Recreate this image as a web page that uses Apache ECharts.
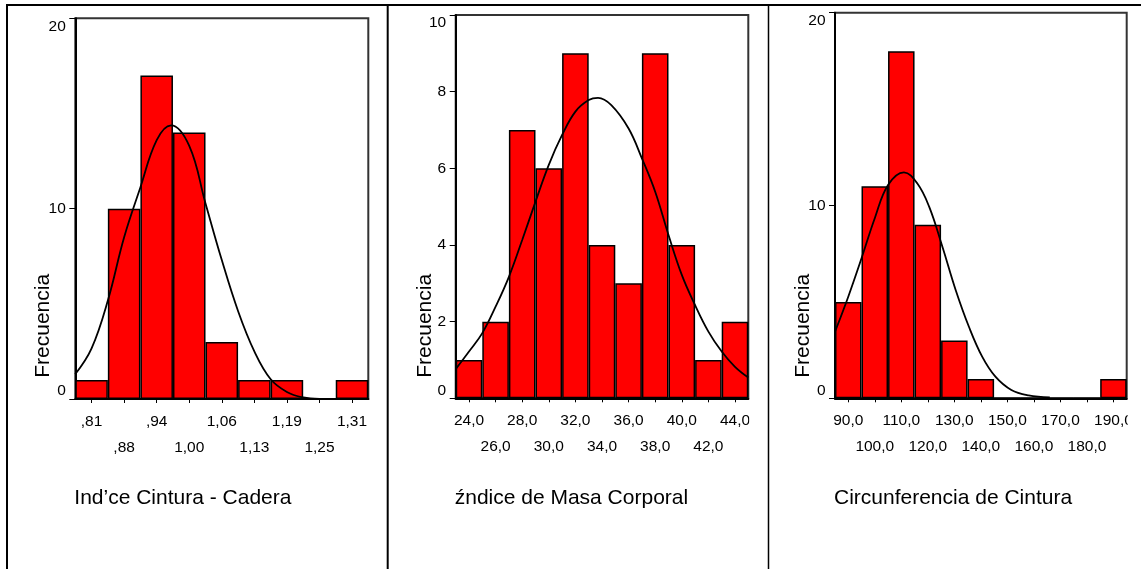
<!DOCTYPE html>
<html>
<head>
<meta charset="utf-8">
<script src="https://cdn.jsdelivr.net/npm/echarts@6/dist/echarts.min.js"></script>
<style>
html,body{margin:0;padding:0;background:#fff;}
#main{width:1141px;height:569px;}
</style>
</head>
<body>
<div id="main"></div>
<script>
// ---------- DATA ----------
// Panel 1: Índice Cintura - Cadera
const cats1 = [',81', ',88', ',94', '1,00', '1,06', '1,13', '1,19', '1,25', '1,31'];
const freq1 = [1, 10, 17, 14, 3, 1, 1, 0, 1];
const range1 = [0.78125, 1.34375];
const curveX1 = [0.781, 0.8125, 0.844, 0.875, 0.906, 0.9375, 0.965, 1.0, 1.031, 1.0625, 1.094, 1.125, 1.156, 1.1875, 1.219, 1.25];
const curveY1 = [1.30, 2.66, 5.2, 8.5, 11.1, 13.6, 14.38, 13.3, 10.3, 7.3, 4.6, 2.5, 1.05, 0.37, 0.08, 0.0];

// Panel 2: Índice de Masa Corporal
const cats2 = ['24,0', '26,0', '28,0', '30,0', '32,0', '34,0', '36,0', '38,0', '40,0', '42,0', '44,0'];
const freq2 = [1, 2, 7, 6, 9, 4, 3, 9, 4, 1, 2];
const range2 = [23, 45];
const curveX2 = [23, 24, 25, 26, 27, 28, 29, 30, 31, 32, 33, 33.7, 34.7, 36, 37, 38, 39, 40, 41, 42, 43, 44, 45];
const curveY2 = [0.76, 1.22, 1.70, 2.39, 3.17, 4.13, 5.13, 6.09, 6.87, 7.48, 7.78, 7.84, 7.65, 7.04, 6.26, 5.39, 4.26, 3.22, 2.43, 1.74, 1.22, 0.82, 0.54];

// Panel 3: Circunferencia de Cintura
const cats3 = ['90,0', '100,0', '110,0', '120,0', '130,0', '140,0', '150,0', '160,0', '170,0', '180,0', '190,0'];
const freq3 = [5, 11, 18, 9, 3, 1, 0, 0, 0, 0, 1];
const range3 = [85, 195];
const curveX3 = [85, 90, 95, 100, 105, 111, 116, 120.5, 125.5, 130.5, 135.5, 140.5, 145.5, 151.5, 158, 166];
const curveY3 = [3.45, 5.27, 7.26, 9.34, 11.06, 11.72, 11.15, 9.94, 7.86, 5.62, 3.71, 2.16, 1.12, 0.43, 0.15, 0.05];

const xTitles = ['Ind\u2019ce Cintura - Cadera', '\u017Andice de Masa Corporal', 'Circunferencia de Cintura'];
const yTitle = 'Frecuencia';
const yMax = [20, 10, 20];
const yStep = [10, 2, 10];

// ---------- LAYOUT ----------
const FONT = '"Liberation Sans", Arial, sans-serif';
const grids = [
  {left: 75.3, top: 18.3, width: 293, height: 380.7},
  {left: 455.7, top: 15, width: 292.6, height: 383.3},
  {left: 835, top: 12.7, width: 291.7, height: 385.6}
];
const cats = [cats1, cats2, cats3];
const freqs = [freq1, freq2, freq3];
const ranges = [range1, range2, range3];
const curves = [[curveX1, curveY1], [curveX2, curveY2], [curveX3, curveY3]];
const yNameX = [43.5, 425, 803.3];

const option = {
  animation: false,
  backgroundColor: '#fff',
  grid: grids.map(g => Object.assign({show: true, borderColor: '#333', borderWidth: 2, backgroundColor: 'transparent'}, g)),
  xAxis: [],
  yAxis: [],
  series: [],
  graphic: []
};

for (let p = 0; p < 3; p++) {
  option.xAxis.push({
    type: 'category', gridIndex: p, data: cats[p], boundaryGap: true,
    axisLine: {lineStyle: {color: '#000', width: 2}},
    axisTick: {show: true, alignWithLabel: true, length: 4, interval: 0, lineStyle: {color: '#000', width: 1}},
    axisLabel: {
      interval: 0, margin: 9, fontSize: 15.5, lineHeight: 26.5, color: '#000', fontFamily: FONT,
      formatter: (v, i) => (i % 2 ? '\n' + v : v)
    },
    splitLine: {show: false}
  });
  option.xAxis.push({
    type: 'value', gridIndex: p, min: ranges[p][0], max: ranges[p][1], show: false
  });
  option.yAxis.push({
    type: 'value', gridIndex: p, min: 0, max: yMax[p], interval: yStep[p],
    axisLine: {show: true, lineStyle: {color: '#000', width: 2}},
    axisTick: {show: true, length: 6, lineStyle: {color: '#000', width: 1}},
    axisLabel: {margin: 9.5, fontSize: 15.5, color: '#000', fontFamily: FONT,
      verticalAlignMaxLabel: 'top', verticalAlignMinLabel: 'bottom'},
    splitLine: {show: false}
  });
  option.series.push({
    type: 'bar', xAxisIndex: 2 * p, yAxisIndex: p, data: freqs[p],
    barCategoryGap: '0%',
    itemStyle: {color: '#ff0000', borderColor: '#000', borderWidth: 1.5},
    z: 2
  });
  option.series.push({
    type: 'line', xAxisIndex: 2 * p + 1, yAxisIndex: p,
    data: curves[p][0].map((x, i) => [x, curves[p][1][i]]),
    smooth: 0.4, showSymbol: false, symbol: 'none',
    lineStyle: {color: '#000', width: 1.8}, z: 5
  });
  // axis title below
  option.graphic.push({
    type: 'text', x: grids[p].left - 1, y: 498, z: 50,
    style: {text: xTitles[p], fontSize: 21, fontFamily: FONT, fill: '#000', align: 'left', verticalAlign: 'middle'}
  });
  // y title
  option.graphic.push({
    type: 'text', x: yNameX[p], y: 325.8, rotation: Math.PI / 2, z: 50,
    style: {text: yTitle, fontSize: 21, fontFamily: FONT, fill: '#000', align: 'center', verticalAlign: 'middle'}
  });
}

// clip last labels at plot frame (as in reference)
option.graphic.push({type: 'rect', z: 40, shape: {x: 749.3, y: 404, width: 17.5, height: 30}, style: {fill: '#fff'}});
option.graphic.push({type: 'rect', z: 40, shape: {x: 1127.7, y: 404, width: 14, height: 30}, style: {fill: '#fff'}});

// table borders
option.graphic.push({type: 'line', z: 60, shape: {x1: 6, y1: 5, x2: 1141, y2: 5}, style: {stroke: '#000', lineWidth: 2}});
option.graphic.push({type: 'line', z: 60, shape: {x1: 7, y1: 4, x2: 7, y2: 569}, style: {stroke: '#000', lineWidth: 2}});
option.graphic.push({type: 'line', z: 60, shape: {x1: 387.7, y1: 4, x2: 387.7, y2: 569}, style: {stroke: '#000', lineWidth: 2}});
option.graphic.push({type: 'line', z: 60, shape: {x1: 768.5, y1: 4, x2: 768.5, y2: 569}, style: {stroke: '#000', lineWidth: 1.5}});

const chart = echarts.init(document.getElementById('main'), null, {renderer: 'canvas'});
chart.setOption(option);
</script>
</body>
</html>
